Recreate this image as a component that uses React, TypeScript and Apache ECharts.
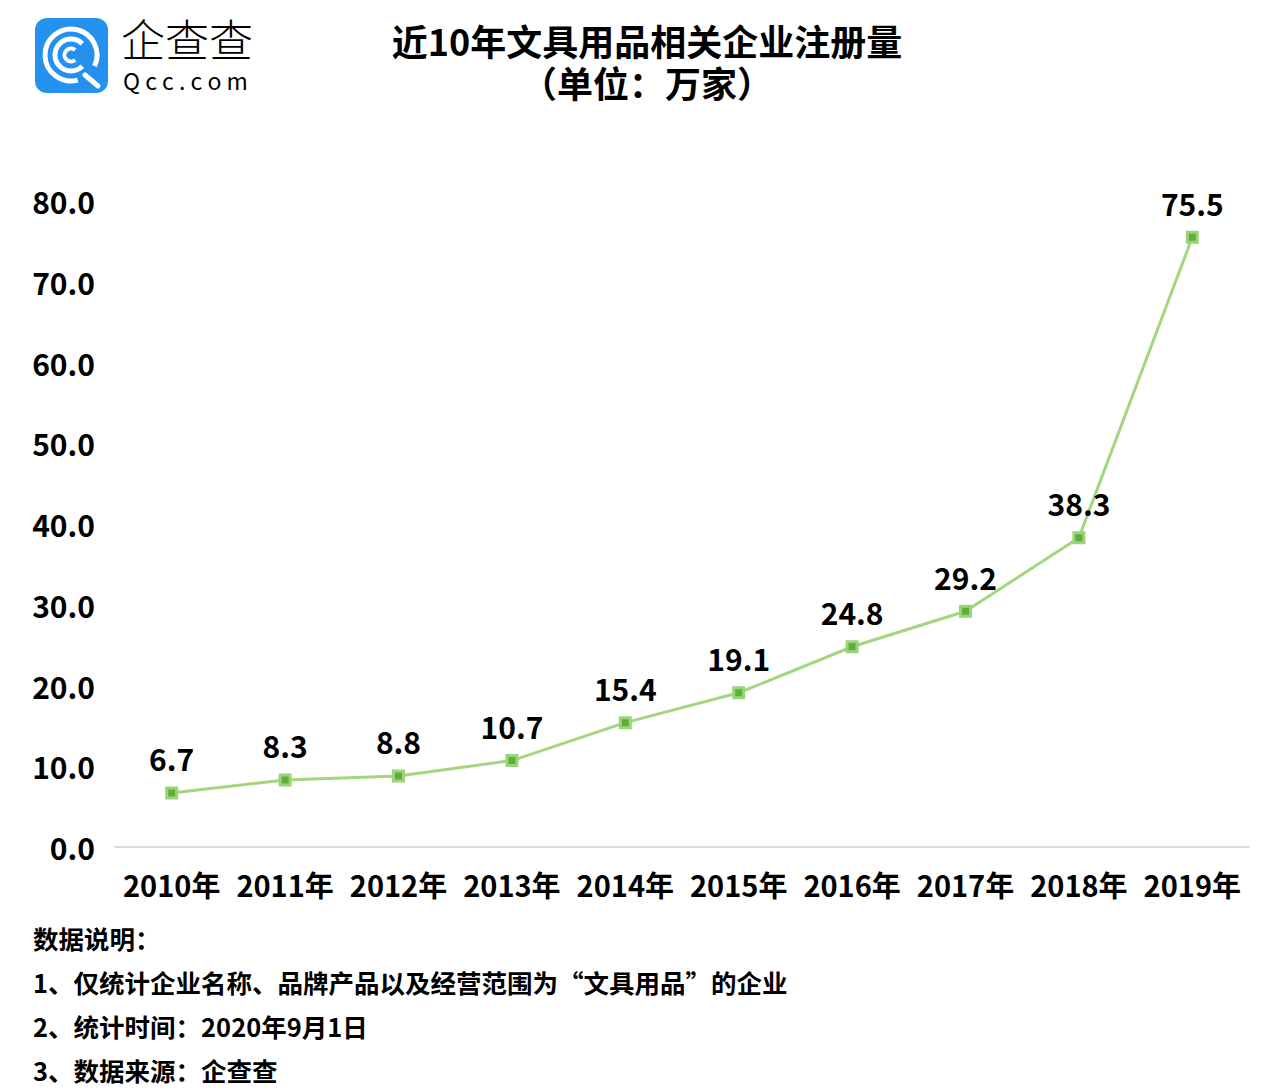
import React, { useEffect, useRef } from "react";
import * as echarts from "echarts";

const categories = ["2010年", "2011年", "2012年", "2013年", "2014年", "2015年", "2016年", "2017年", "2018年", "2019年"];
const values = [6.7, 8.3, 8.8, 10.7, 15.4, 19.1, 24.8, 29.2, 38.3, 75.5];
const titleLines = ["近10年文具用品相关企业注册量", "（单位：万家）"];
const notes = [
  "数据说明：",
  "1、仅统计企业名称、品牌产品以及经营范围为“文具用品”的企业",
  "2、统计时间：2020年9月1日",
  "3、数据来源：企查查",
];
const logoName = "企查查";
const logoDomain = "Q c c . c o m";

const FONT = '"Noto Sans CJK SC", "Noto Sans", sans-serif';

export default function App() {
  const ref = useRef<HTMLDivElement>(null);
  useEffect(() => {
    if (!ref.current) return;
    const chart = echarts.init(ref.current, null, { renderer: "svg" });
    const cx = 71, cy = 55;
    const deg = (d: number) => (d * Math.PI) / 180;
    const graphics: any[] = [
      { type: "rect", shape: { x: 35, y: 18, width: 73, height: 75, r: 12 }, style: { fill: "#2591ef" } },
      { type: "arc", shape: { cx, cy, r: 26, startAngle: deg(75), endAngle: deg(385) }, style: { stroke: "#fff", lineWidth: 5, fill: "none" } },
      { type: "line", shape: { x1: cx + 14, y1: cy + 20, x2: cx + 27, y2: cy + 31 }, style: { stroke: "#fff", lineWidth: 5, lineCap: "round" } },
      { type: "arc", shape: { cx, cy, r: 16, startAngle: deg(45), endAngle: deg(315) }, style: { stroke: "#fff", lineWidth: 5, fill: "none" } },
      { type: "arc", shape: { cx, cy, r: 6.5, startAngle: deg(50), endAngle: deg(310) }, style: { stroke: "#fff", lineWidth: 4, fill: "none" } },
      {
        type: "text", x: 121, y: 16,
        style: {
          text: `{a|${logoName}}\n{b|${logoDomain}}`,
          textAlign: "left", textVerticalAlign: "top",
          rich: {
            a: { fontFamily: FONT, fontSize: 44, fontWeight: 300, color: "#444", lineHeight: 44 },
            b: { fontFamily: FONT, fontSize: 23, fontWeight: "normal", color: "#444", lineHeight: 40, padding: [0, 0, 0, 2] },
          },
        },
      },
      {
        type: "text", x: 647, y: 40,
        style: {
          text: titleLines.join("\n"), font: `bold 36px ${FONT}`, fill: "#000",
          textAlign: "center", textVerticalAlign: "top", lineHeight: 42,
        },
        y: 19,
      },
      ...notes.map((t, i) => ({
        type: "text", x: 33, y: 937 + i * 44.3,
        style: { text: t, font: `bold 25.5px ${FONT}`, fill: "#000", textAlign: "left", textVerticalAlign: "middle" },
      })),
    ];
    chart.setOption({
      animation: false,
      backgroundColor: "#fff",
      grid: { left: 115, right: 17, top: 201, bottom: 245, containLabel: false },
      xAxis: {
        type: "category",
        data: categories,
        boundaryGap: true,
        axisLine: { show: true, lineStyle: { color: "#d9d9d9", width: 2 } },
        axisTick: { show: false },
        axisLabel: { color: "#000", fontSize: 29, fontWeight: "bold", fontFamily: FONT, margin: 22, interval: 0 },
      },
      yAxis: {
        type: "value",
        min: 0,
        max: 80,
        interval: 10,
        axisLine: { show: false },
        axisTick: { show: false },
        splitLine: { show: false },
        axisLabel: {
          color: "#000", fontSize: 30, fontWeight: "bold", fontFamily: FONT, margin: 20,
          formatter: (v: number) => v.toFixed(1),
        },
      },
      series: [
        {
          type: "line",
          data: values,
          symbol: "rect",
          symbolSize: 10,
          lineStyle: { color: "#a3d77f", width: 3 },
          itemStyle: { color: "#5fae3c", borderColor: "#9ad479", borderWidth: 3 },
          label: {
            show: true, position: "top", distance: 13,
            color: "#000", fontSize: 30, fontWeight: "bold", fontFamily: FONT,
            formatter: (p: any) => p.value.toFixed(1),
          },
        },
      ],
      graphic: graphics,
    });
    return () => chart.dispose();
  }, []);
  return <div ref={ref} style={{ position: "absolute", left: 0, top: 0, width: 1266, height: 1092 }} />;
}
